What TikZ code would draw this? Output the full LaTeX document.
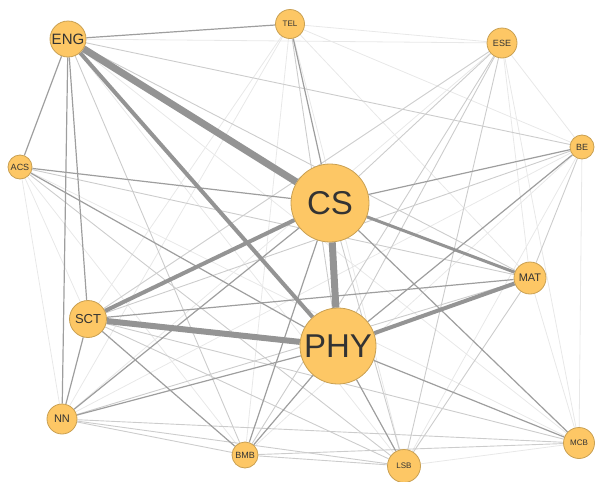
\documentclass[tikz,border=0pt]{standalone}
\usepackage{fontspec}
\setmainfont{Liberation Sans}
\definecolor{nodefill}{HTML}{FDC765}
\definecolor{nodedraw}{HTML}{C9A052}
\definecolor{txt}{HTML}{333333}
\pgfdeclarelayer{bg}
\pgfsetlayers{bg,main}
\begin{document}
\begin{tikzpicture}[x=1pt,y=-1pt,
  nd/.style={circle,fill=nodefill,draw=nodedraw,line width=0.8pt,inner sep=0pt,text=txt},
  hA/.style={line width=7pt,draw=black!42},
  hB/.style={line width=6pt,draw=black!42},
  hC/.style={line width=4pt,draw=black!42},
  hD/.style={line width=3pt,draw=black!42},
  md/.style={line width=1.2pt,draw=black!38},
  lt/.style={line width=0.9pt,draw=black!20},
  ft/.style={line width=0.8pt,draw=black!9}]
\useasboundingbox (0,0) rectangle (595,482);
\node[nd,minimum size=36pt,font=\fontsize{15}{15}\selectfont] (ENG) at (68,39) {ENG};
\node[nd,minimum size=29pt,font=\fontsize{8}{8}\selectfont] (TEL) at (290,24) {TEL};
\node[nd,minimum size=30pt,font=\fontsize{9}{9}\selectfont] (ESE) at (502,43) {ESE};
\node[nd,minimum size=24pt,font=\fontsize{9}{9}\selectfont] (BE) at (582,147) {BE};
\node[nd,minimum size=24pt,font=\fontsize{9}{9}\selectfont] (ACS) at (20,167) {ACS};
\node[nd,minimum size=78pt,font=\fontsize{33}{33}\selectfont] (CS) at (330,203) {CS};
\node[nd,minimum size=32pt,font=\fontsize{11}{11}\selectfont] (MAT) at (530,278) {MAT};
\node[nd,minimum size=37pt,font=\fontsize{13}{13}\selectfont] (SCT) at (88,319) {SCT};
\node[nd,minimum size=76pt,font=\fontsize{33}{33}\selectfont] (PHY) at (338,346) {PHY};
\node[nd,minimum size=30pt,font=\fontsize{11}{11}\selectfont] (NN) at (62,419) {NN};
\node[nd,minimum size=26pt,font=\fontsize{9}{9}\selectfont] (BMB) at (245,455) {BMB};
\node[nd,minimum size=33pt,font=\fontsize{8}{8}\selectfont] (LSB) at (404,466) {LSB};
\node[nd,minimum size=31pt,font=\fontsize{8}{8}\selectfont] (MCB) at (579,443) {MCB};
\begin{pgfonlayer}{bg}
% faint
\foreach \a/\b in {TEL/ESE,ENG/ESE,TEL/MAT,TEL/BE,ESE/BE,ESE/MAT,ESE/MCB,BE/MCB,BE/LSB,BE/NN,ACS/NN,ACS/SCT,ACS/BMB,TEL/SCT,TEL/NN,MAT/MCB,LSB/MCB,ENG/LSB,TEL/LSB,ESE/NN,BE/BMB,ACS/MCB,TEL/BMB,ENG/MCB}
  \draw[ft] (\a) -- (\b);
% light
\foreach \a/\b in {ENG/BE,ESE/CS,ESE/PHY,ESE/SCT,ESE/BMB,ESE/LSB,BE/MAT,BE/SCT,ACS/MAT,LSB/CS,LSB/SCT,LSB/MAT,MCB/SCT,MCB/NN,MCB/BMB,NN/BMB,NN/LSB,NN/MAT,BMB/LSB,TEL/PHY,ENG/BMB,ACS/LSB,ENG/MAT}
  \draw[lt] (\a) -- (\b);
% medium
\foreach \a/\b in {ENG/TEL,ENG/ACS,ENG/SCT,ENG/NN,ACS/CS,ACS/PHY,TEL/CS,SCT/NN,SCT/BMB,NN/CS,NN/PHY,BMB/CS,BMB/PHY,BE/CS,BE/PHY,MCB/PHY,MCB/CS,LSB/PHY,SCT/MAT}
  \draw[md] (\a) -- (\b);
% heavy
\draw[hD] (MAT) -- (CS);
\draw[hC] (ENG) -- (PHY);
\draw[hC] (SCT) -- (CS);
\draw[hC] (MAT) -- (PHY);
\draw[hB] (SCT) -- (PHY);
\draw[hA] (ENG) -- (CS);
\draw[hA] (CS) -- (PHY);
\end{pgfonlayer}
\end{tikzpicture}
\end{document}
